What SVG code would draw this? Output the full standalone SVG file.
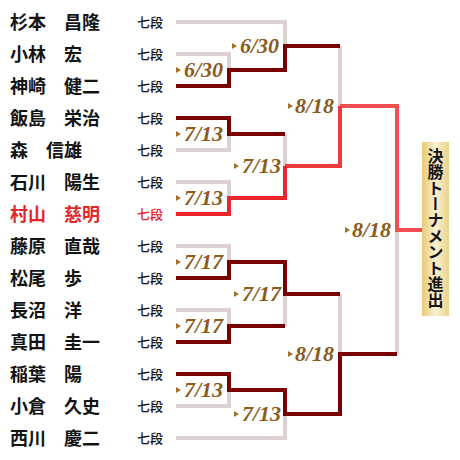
<svg xmlns="http://www.w3.org/2000/svg" width="460" height="460" viewBox="0 0 460 460">
<style>
.nm{font-family:"Noto Sans CJK JP","Noto Sans CJK SC",sans-serif;font-size:18px;font-weight:700;fill:#141414}
.dan{font-family:"Noto Sans CJK JP","Noto Sans CJK SC",sans-serif;font-size:13px;font-weight:500;fill:#141414}
.win .nm,.win .dan{fill:#E5252A}
.ln{fill:none;stroke-width:4;stroke-linejoin:miter;stroke-linecap:butt}
.g{stroke:#DDD0D0}
.d{stroke:#780000}
.r1{stroke:#E8262B}
.r2{stroke:#EE393D}
.r3{stroke:#F24D51}
.dt{font-family:"Liberation Serif","Times New Roman",serif;font-size:22px;font-weight:700;font-style:italic;fill:#8B5A1C}
.tri{fill:#A0712E}
.fin{font-family:"Noto Sans CJK JP","Noto Sans CJK SC",sans-serif;font-size:16px;font-weight:700;fill:#141414;writing-mode:vertical-rl}
</style>
<defs>
<linearGradient id="gold" x1="0" y1="0" x2="1" y2="0">
<stop offset="0" stop-color="#E8C976"/>
<stop offset="0.5" stop-color="#FAF1D2"/>
<stop offset="1" stop-color="#ECD288"/>
</linearGradient>
<polygon id="tr" points="0,-3 5,0 0,3"/>
</defs>

<g id="players">
<g id="p1"><text class="nm" x="10" y="28.5">杉本　昌隆</text><text class="dan" x="137" y="27">七段</text></g>
<g id="p2"><text class="nm" x="10" y="60.5">小林　宏</text><text class="dan" x="137" y="59">七段</text></g>
<g id="p3"><text class="nm" x="10" y="92.5">神崎　健二</text><text class="dan" x="137" y="91">七段</text></g>
<g id="p4"><text class="nm" x="10" y="124.5">飯島　栄治</text><text class="dan" x="137" y="123">七段</text></g>
<g id="p5"><text class="nm" x="10" y="156.5">森　信雄</text><text class="dan" x="137" y="155">七段</text></g>
<g id="p6"><text class="nm" x="10" y="188.5">石川　陽生</text><text class="dan" x="137" y="187">七段</text></g>
<g id="p7" class="win"><text class="nm" x="10" y="220.5">村山　慈明</text><text class="dan" x="137" y="219">七段</text></g>
<g id="p8"><text class="nm" x="10" y="252.5">藤原　直哉</text><text class="dan" x="137" y="251">七段</text></g>
<g id="p9"><text class="nm" x="10" y="284.5">松尾　歩</text><text class="dan" x="137" y="283">七段</text></g>
<g id="p10"><text class="nm" x="10" y="316.5">長沼　洋</text><text class="dan" x="137" y="315">七段</text></g>
<g id="p11"><text class="nm" x="10" y="348.5">真田　圭一</text><text class="dan" x="137" y="347">七段</text></g>
<g id="p12"><text class="nm" x="10" y="380.5">稲葉　陽</text><text class="dan" x="137" y="379">七段</text></g>
<g id="p13"><text class="nm" x="10" y="412.5">小倉　久史</text><text class="dan" x="137" y="411">七段</text></g>
<g id="p14"><text class="nm" x="10" y="444.5">西川　慶二</text><text class="dan" x="137" y="443">七段</text></g>
</g>

<g id="connectors">
<path class="ln g" d="M176,22 H285 V46"/>
<path class="ln g" d="M176,54 H229 V70"/>
<path class="ln g" d="M340,46 V106"/>
<path class="ln g" d="M176,150 H229 V134"/>
<path class="ln g" d="M285,134 V166"/>
<path class="ln g" d="M176,182 H229 V198"/>
<path class="ln g" d="M176,246 H229 V262"/>
<path class="ln g" d="M340,294 V354"/>
<path class="ln g" d="M176,310 H229 V326"/>
<path class="ln g" d="M285,326 V294"/>
<path class="ln g" d="M397,354 V230"/>
<path class="ln g" d="M176,406 H229 V390"/>
<path class="ln g" d="M176,438 H285 V414"/>

<path class="ln d" d="M176,86 H229 V70 H285 V46 H340"/>
<path class="ln d" d="M176,118 H229 V134 H285"/>
<path class="ln d" d="M176,278 H229 V262 H285 V294 H340"/>
<path class="ln d" d="M176,342 H229 V326 H285"/>
<path class="ln d" d="M176,374 H229 V390 H285 V414 H340 V354 H397"/>

<path class="ln r3" d="M340,106 H397 V230 H422"/>
<path class="ln r2" d="M285,166 H340 V106"/>
<path class="ln r1" d="M176,214 H229 V198 H285 V166"/>
</g>

<g id="dates">
<use href="#tr" class="tri" x="176" y="70"/><text class="dt" x="184" y="77">6/30</text>
<use href="#tr" class="tri" x="176" y="134"/><text class="dt" x="184" y="141">7/13</text>
<use href="#tr" class="tri" x="176" y="198"/><text class="dt" x="184" y="205">7/13</text>
<use href="#tr" class="tri" x="176" y="262"/><text class="dt" x="184" y="269">7/17</text>
<use href="#tr" class="tri" x="176" y="326"/><text class="dt" x="184" y="333">7/17</text>
<use href="#tr" class="tri" x="176" y="390"/><text class="dt" x="184" y="397">7/13</text>
<use href="#tr" class="tri" x="232" y="46"/><text class="dt" x="240" y="53">6/30</text>
<use href="#tr" class="tri" x="234" y="166"/><text class="dt" x="242" y="173">7/13</text>
<use href="#tr" class="tri" x="234" y="294"/><text class="dt" x="242" y="301">7/17</text>
<use href="#tr" class="tri" x="234" y="414"/><text class="dt" x="242" y="421">7/13</text>
<use href="#tr" class="tri" x="288" y="106"/><text class="dt" x="295" y="113">8/18</text>
<use href="#tr" class="tri" x="288" y="354"/><text class="dt" x="295" y="361">8/18</text>
<use href="#tr" class="tri" x="345" y="230"/><text class="dt" x="352" y="237">8/18</text>
</g>

<g id="final">
<rect x="422" y="142" width="27" height="174" fill="url(#gold)"/>
<text class="fin" x="435.5" y="148">決勝トーナメント進出</text>
</g>
</svg>
